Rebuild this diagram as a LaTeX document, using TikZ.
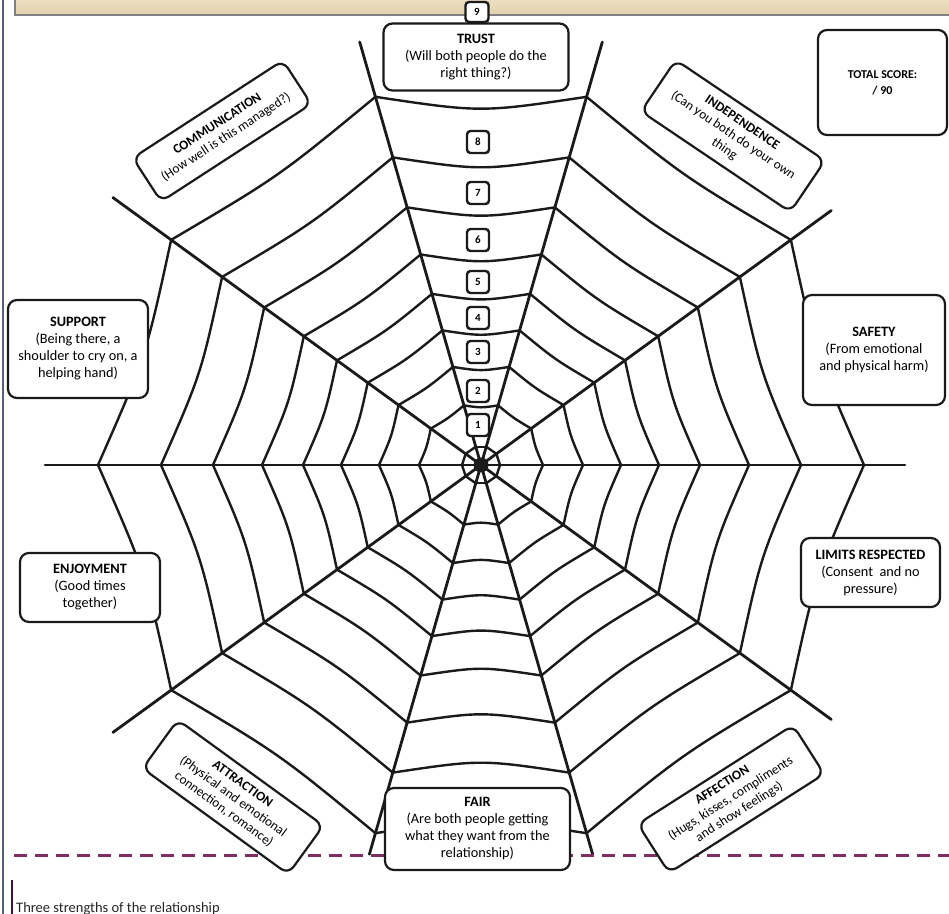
\documentclass[tikz,border=0pt]{standalone}
\usepackage{fontspec}
\setmainfont{Carlito}
\definecolor{webcol}{HTML}{1A1A1A}
\definecolor{framecol}{HTML}{55627A}
\definecolor{dashcol}{HTML}{7E2E62}
\definecolor{bantop}{HTML}{F3EAD6}
\definecolor{banbot}{HTML}{E4D3AE}
\tikzset{
  spoke/.style={webcol, line width=2.8pt, line cap=round},
  thread/.style={webcol, line width=2.4pt},
  lbl/.style={draw=webcol, line width=2.2pt, rounded corners=9pt, fill=white,
    align=center, inner sep=0pt, font=\fontsize{14.3}{17}\selectfont},
  tilted/.style={lbl, font=\fontsize{13.3}{15.8}\selectfont},
  numbox/.style={draw=webcol, line width=2.4pt, rounded corners=3.5pt, fill=white,
    minimum width=22pt, minimum height=22pt, inner sep=0pt,
    font=\fontsize{11}{11}\selectfont\bfseries},
}
\begin{document}
\begin{tikzpicture}[x=1pt, y=1pt]
  \fill[white] (0,0) rectangle (949,913);
  \useasboundingbox (0,0) rectangle (949,913);
  % frame and banner
  \draw[framecol, line width=2.5pt] (3,-5) -- (3,920);
  \draw[draw=black!50, top color=bantop, bottom color=banbot, line width=1.5pt] (15,898) rectangle (960,930);

  % web
  \coordinate (hub) at (481,448);
  \begin{scope}[shift={(hub)}]
    \foreach \a/\len in {0/424,36/433,74/440,106/440,144/455,180/436,216/455,254/405,286/405,324/433}
      \draw[spoke] (0,0) -- (\a:\len);
    \foreach \a/\b in {0/36,36/74,74/106,106/144,144/180,180/216,216/254,254/286,286/324,324/360}
      \foreach \r in {19,62,102,140,178,219,268,320,383}
        \draw[thread] (\a:\r) .. controls ({(\a+\b)/2}:{0.92*\r}) .. (\b:\r);
    \fill[webcol] (0,0) circle (7.5pt);
  \end{scope}

  % bottom dashed rule
  \draw[dashcol, line width=3pt, dash pattern=on 13pt off 8pt] (14,58) -- (949,58);

  % labels
  \node[lbl, minimum width=185pt, minimum height=67pt] (trust) at (476,856)
    {\textbf{TRUST}\\(Will both people do the\\right thing?)};
  \node[numbox, minimum width=23pt, minimum height=20pt] (n9) at (477,901) {9};
  \node[lbl, minimum width=129pt, minimum height=105pt, font=\fontsize{12}{16}\selectfont] (total) at (882.5,830.5)
    {\textbf{TOTAL SCORE:}\\\textbf{/ 90}};
  \node[tilted, rotate=33, minimum width=179pt, minimum height=52pt] (comm) at (222,782)
    {\textbf{COMMUNICATION}\\(How well is this managed?)};
  \node[tilted, rotate=-34, minimum width=180pt, minimum height=62pt] (indep) at (733,777)
    {\textbf{INDEPENDENCE}\\(Can you both do your own\\thing};
  \node[lbl, minimum width=140pt, minimum height=98pt] (support) at (78,564)
    {\textbf{SUPPORT}\\(Being there, a\\shoulder to cry on, a\\helping hand)};
  \node[lbl, minimum width=142pt, minimum height=110pt] (safety) at (874,563)
    {\textbf{SAFETY}\\(From emotional\\and physical harm)};
  \node[lbl, minimum width=140pt, minimum height=69pt] (enjoy) at (90,325.5)
    {\textbf{ENJOYMENT}\\(Good times\\together)};
  \node[lbl, minimum width=139pt, minimum height=69pt] (limits) at (870.5,340.5)
    {\textbf{LIMITS RESPECTED}\\(Consent~ and no\\pressure)};
  \node[tilted, rotate=-36, minimum width=180pt, minimum height=60pt] (attract) at (233,116)
    {\textbf{ATTRACTION}\\(Physical and emotional\\connection, romance)};
  \node[tilted, rotate=32.5, minimum width=184pt, minimum height=58pt] (affect) at (731,114)
    {\textbf{AFFECTION}\\(Hugs, kisses, compliments\\and show feelings)};
  \node[lbl, minimum width=185pt, minimum height=82pt] (fair) at (477.5,84)
    {\textbf{FAIR}\\(Are both people getting\\what they want from the\\relationship)};

  % score boxes
  \foreach \k/\y in {1/488,2/522,3/561,4/595,5/631,6/673,7/720,8/771}
    \node[numbox] (n\k) at (478,\y) {\k};

  % strengths box
  \draw[dashcol!50!black, line width=2.5pt] (12,-3) -- (12,33);
  \node[anchor=base west, inner sep=0pt, text=black!85, font=\fontsize{14.5}{17}\selectfont] (strengths) at (16,1)
    {Three strengths of the relationship};
\end{tikzpicture}
\end{document}
